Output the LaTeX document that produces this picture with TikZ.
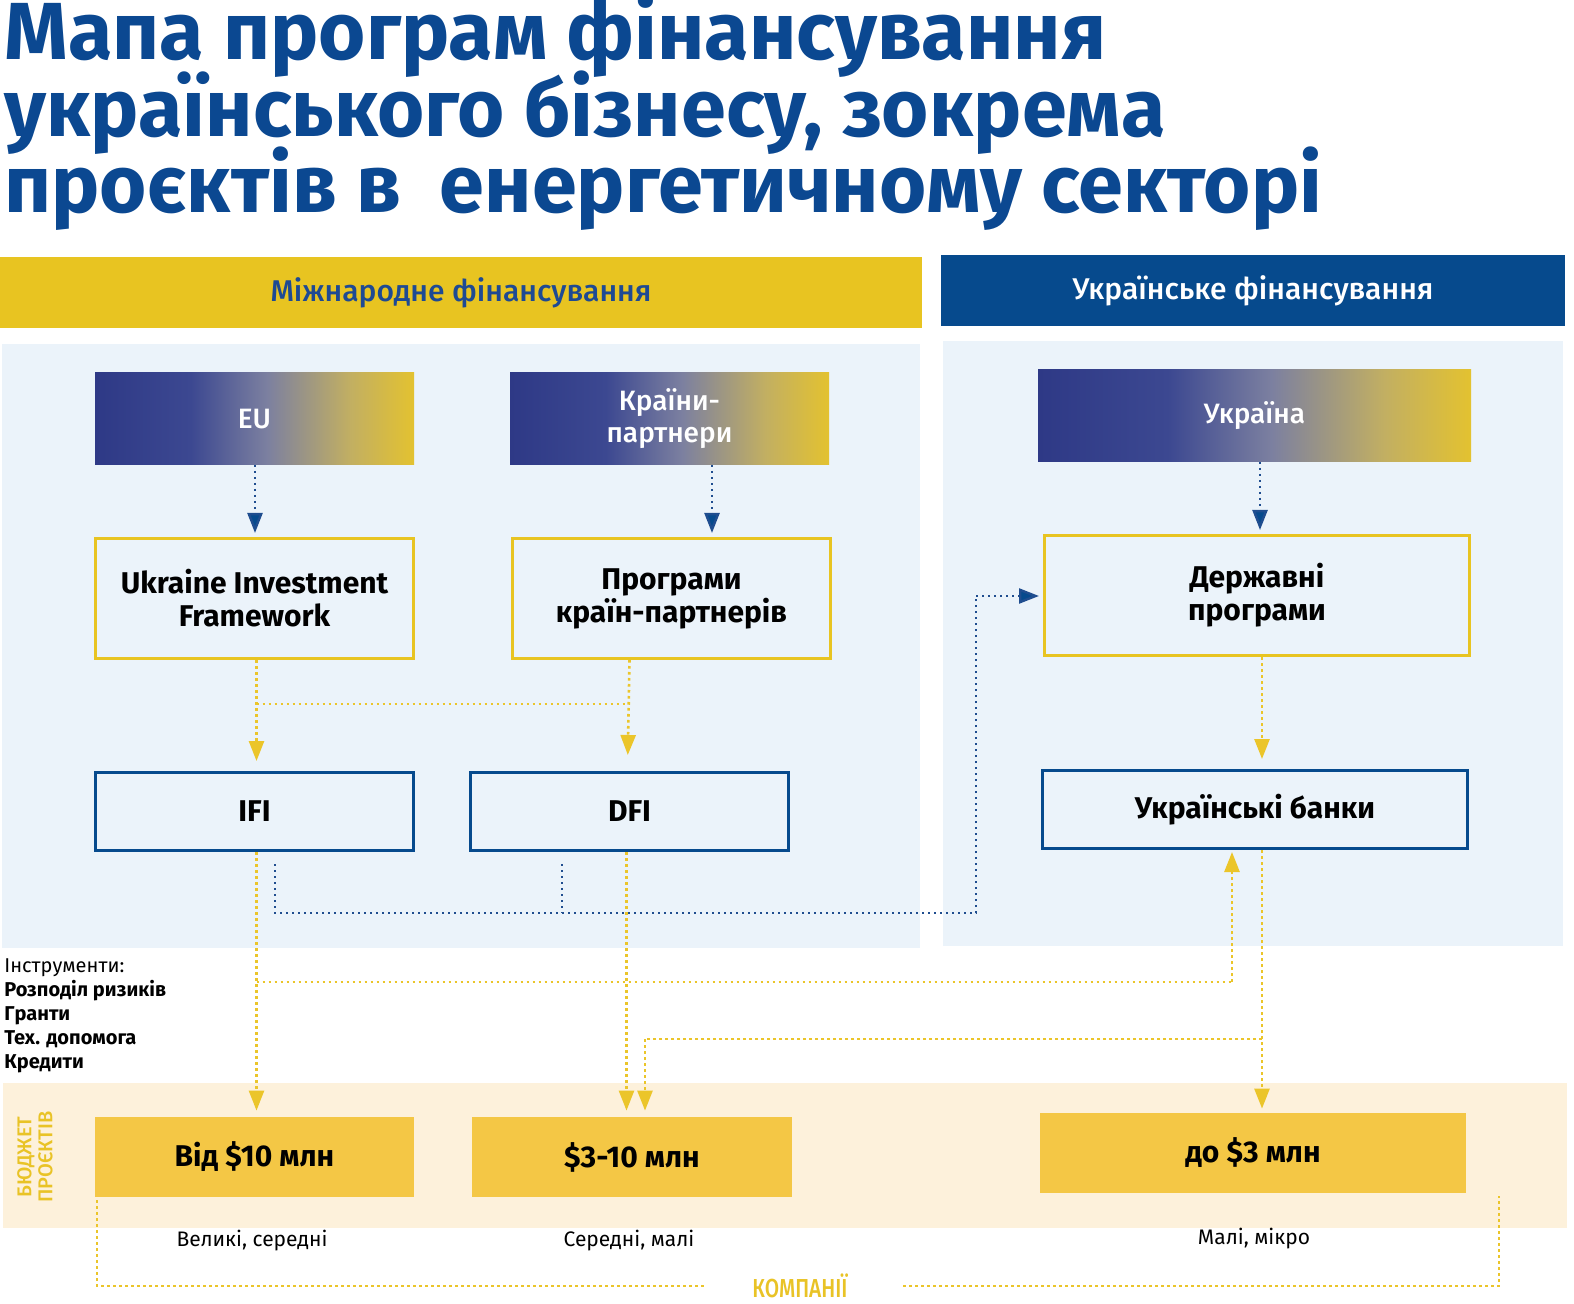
\documentclass[tikz,border=0pt]{standalone}
\usepackage{fontspec}
\setmainfont{Fira Sans}
\newfontfamily\medfont{Fira Sans Medium}
\usetikzlibrary{arrows.meta,calc}
\definecolor{ttlblue}{HTML}{0B4891}
\definecolor{hdryel}{HTML}{E8C421}
\definecolor{hdrblue}{HTML}{064A8D}
\definecolor{hdrtxt}{HTML}{1E4A93}
\definecolor{panel}{HTML}{EBF3FA}
\definecolor{cream}{HTML}{FDF1DB}
\definecolor{boxyel}{HTML}{F4C745}
\definecolor{dotyel}{HTML}{EBC52A}
\definecolor{dotblue}{HTML}{1F4D8F}
\definecolor{lblyel}{HTML}{E9C326}
\definecolor{ga}{HTML}{2E3986}
\definecolor{gb}{HTML}{3C4891}
\definecolor{gc}{HTML}{7C80A0}
\definecolor{ge}{HTML}{C2AF62}
\definecolor{gd}{HTML}{E3C230}
\pgfdeclarehorizontalshading{uagrad}{100bp}{color(0bp)=(ga); color(25bp)=(ga); color(40bp)=(gb); color(52bp)=(gc); color(65bp)=(ge); color(75bp)=(gd); color(100bp)=(gd)}
\tikzset{
  gradbox/.style={shading=uagrad, minimum height=46pt, inner sep=0pt, text=white, align=center, font=\fontsize{14}{16}\medfont},
  ybox/.style={draw=hdryel, line width=1.5pt, minimum height=60pt, inner sep=0pt, align=center, font=\fontsize{15}{16.5}\selectfont\bfseries},
  bbox/.style={draw=hdrblue, line width=1.5pt, minimum height=39pt, inner sep=0pt, align=center, font=\fontsize{15}{16.5}\selectfont\bfseries},
  fbox/.style={fill=boxyel, minimum height=40pt, inner sep=0pt, align=center, font=\fontsize{15}{16.5}\selectfont\bfseries},
  lbl/.style={font=\fontsize{10.5}{12}\selectfont, inner sep=0pt},
  ttl/.style={anchor=base west, inner sep=0pt, text=ttlblue, font=\fontsize{40.5}{40}\selectfont\bfseries},
  ydot/.style={draw=dotyel, line width=1.3pt, dash pattern=on 1.3pt off 1.7pt},
  bdot/.style={draw=dotblue, line width=1.2pt, dash pattern=on 1.2pt off 1.8pt},
  yarr/.style={-{Triangle[width=7.5pt,length=10pt,fill=dotyel]}},
  barr/.style={-{Triangle[width=7.5pt,length=10pt,fill=hdrblue]}},
}
\begin{document}
\begin{tikzpicture}[x=0.5pt,y=-0.5pt]
\useasboundingbox (0,0) rectangle (1574,1304);
\fill[white] (0,0) rectangle (1574,1304);
% title
\node[ttl] (title1) at (4,60) {Мапа програм фінансування};
\node[ttl] (title2) at (4,137) {українського бізнесу, зокрема};
\node[ttl] (title3) at (4,213) {проєктів в\ \ енергетичному секторі};
% headers
\fill[hdryel] (0,257) rectangle (922,328);
\node[text=hdrtxt, font=\fontsize{15}{17}\medfont, inner sep=0pt] (hint) at (461,293) {Міжнародне фінансування};
\fill[hdrblue] (941,255) rectangle (1565,326);
\node[text=white, font=\fontsize{15}{17}\medfont, inner sep=0pt] (hua) at (1253,291) {Українське фінансування};
% panels
\fill[panel] (2,344) rectangle (920,948);
\fill[panel] (943,341) rectangle (1563,946);
\fill[cream] (3,1083) rectangle (1567,1228);
% gradient boxes
\node[gradbox, minimum width=159.5pt] (eu) at (254.5,419) {EU};
\node[gradbox, minimum width=159.5pt] (kp) at (669.5,419) {Країни-\\партнери};
\node[gradbox, minimum width=216.5pt] (ua) at (1254.5,416) {Україна};
% yellow outline boxes
\node[ybox, minimum width=159pt] (uif) at (254.5,598.5) {Ukraine Investment\\Framework};
\node[ybox, minimum width=159pt] (prog) at (671.5,598.5) {Програми\\країн-партнерів};
\node[ybox, minimum width=212.5pt] (derzh) at (1257,595.5) {Державні\\програми};
% blue outline boxes
\node[bbox, minimum width=159pt] (ifi) at (254.5,811.5) {IFI};
\node[bbox, minimum width=159pt] (dfi) at (629.5,811.5) {DFI};
\node[bbox, minimum width=212.5pt] (banks) at (1255,809.5) {Українські банки};
% filled boxes
\node[fbox, minimum width=159.5pt] (big) at (254.5,1157) {Від \$10 млн};
\node[fbox, minimum width=160pt] (mid) at (632,1157) {\$3-10 млн};
\node[fbox, minimum width=213pt] (small) at (1253,1153) {до \$3 млн};
% labels
\node[lbl] (l1) at (252,1241) {Великі, середні};
\node[lbl] (l2) at (629,1241) {Середні, малі};
\node[lbl] (l3) at (1254,1239) {Малі, мікро};
\node[anchor=north west, inner sep=0pt, align=left, font=\fontsize{10}{12}\selectfont] (instr) at (4,958)
  {\mdseries Інструменти:\\\bfseries Розподіл ризиків\\\bfseries Гранти\\\bfseries Тех. допомога\\\bfseries Кредити};
\node[rotate=90, text=lblyel, align=center, inner sep=0pt, font=\fontsize{10}{10.5}\medfont] (budget) at (35,1157) {БЮДЖЕТ\\ПРОЄКТІВ};
\node[text=lblyel, inner sep=0pt, font=\fontsize{13}{14}\medfont] (comp) at (800,1286) {\scalebox{0.8}[1]{КОМПАНІЇ}};
% coordinates
\coordinate (eus) at (255,465);
\coordinate (kps) at (712,465);
\coordinate (uas) at (1260,462);
\coordinate (yh1) at (0,704);
\coordinate (bifi) at (275,864);
\coordinate (bdfi) at (562,864);
\coordinate (bh) at (0,913);
\coordinate (bx) at (976,913);
\coordinate (by) at (976,596);
\coordinate (yh2) at (0,982);
\coordinate (yx2) at (1232,982);
\coordinate (yh3) at (0,1039);
\coordinate (yx3) at (645,1039);
\coordinate (c1) at (97,1200);
\coordinate (c2) at (97,1286);
\coordinate (c3) at (705,1286);
\coordinate (c4) at (903,1286);
\coordinate (c5) at (1499,1286);
\coordinate (c6) at (1499,1196);
% blue arrows from gradient boxes
\draw[bdot, barr, shorten >=2pt] (eus) -- (eus |- uif.north);
\draw[bdot, barr, shorten >=2pt] (kps) -- (kps |- prog.north);
\draw[bdot, barr, shorten >=2pt] (uas) -- (uas |- derzh.north);
% yellow: programs to IFI / DFI
\draw[ydot, yarr, shorten >=5pt] ([xshift=1pt]uif.south) -- ([xshift=1pt]ifi.north);
\draw[ydot, yarr, shorten >=8pt] (dfi.north |- prog.south) -- ([xshift=-1pt]dfi.north);
\draw[ydot] ([xshift=1pt]uif.south |- yh1) -- (dfi.north |- yh1);
% blue: IFI / DFI to state programs
\draw[bdot] (bifi) -- (bifi |- bh) -- (bx) -- (by);
\draw[bdot, barr, shorten >=2pt] (by) -- (by -| derzh.west);
\draw[bdot] (bdfi) -- (bdfi |- bh);
% yellow: state programs to banks
\draw[ydot, yarr, shorten >=5pt] ([xshift=2.5pt]derzh.south) -- ([xshift=3.5pt]banks.north);
% yellow: IFI to big
\draw[ydot, yarr, shorten >=3pt] ([xshift=1pt]ifi.south) -- ([xshift=1pt]big.north);
\draw[ydot] ([xshift=1pt]ifi.south |- yh2) -- (yx2);
\draw[ydot, yarr, shorten >=1pt] (yx2) -- (yx2 |- banks.south);
% yellow: DFI to mid
\draw[ydot, yarr, shorten >=3pt] ([xshift=-1.5pt]dfi.south) -- ([xshift=-1.5pt]dfi.south |- mid.north);
% yellow: banks to small and mid
\draw[ydot, yarr, shorten >=2pt] ([xshift=3.5pt]banks.south) -- ([xshift=3.5pt]banks.south |- small.north);
\draw[ydot] ([xshift=3.5pt]banks.south |- yh3) -- (yx3);
\draw[ydot, yarr, shorten >=3pt] (yx3) -- (yx3 |- mid.north);
% companies bracket
\draw[ydot] (c1) -- (c2) -- (c3);
\draw[ydot] (c4) -- (c5) -- (c6);
\end{tikzpicture}
\end{document}
